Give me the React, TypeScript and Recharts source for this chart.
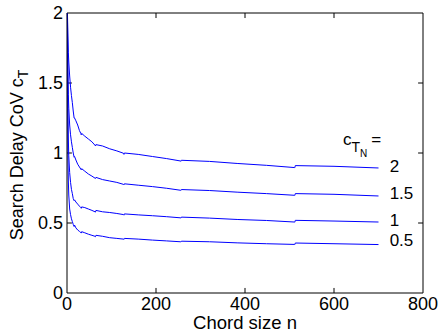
import React from "react";
import { LineChart, Line, XAxis, YAxis, ReferenceDot, ReferenceLine } from "recharts";

// chord sizes n (denser near the start and around the powers of two)
const N = [
  1, 2, 3, 4, 6, 8, 10, 12, 14, 16, 17, 20, 24, 28, 31, 32, 33, 40, 48, 56, 63, 64, 65, 80,
  96, 112, 127, 128, 129, 160, 192, 224, 255, 256, 257, 320, 384, 448, 511, 512, 513, 600, 700,
];

// search delay CoV c_T, one series per c_TN
const CT_2 = [
  2.0, 1.85, 1.72, 1.65, 1.55, 1.47, 1.41, 1.36, 1.3, 1.25, 1.25, 1.23, 1.2, 1.16, 1.14, 1.13,
  1.14, 1.12, 1.1, 1.08, 1.055, 1.05, 1.06, 1.05, 1.03, 1.015, 0.998, 0.99, 1.0, 0.99, 0.975,
  0.96, 0.943, 0.94, 0.948, 0.94, 0.925, 0.912, 0.896, 0.895, 0.91, 0.905, 0.893,
];
const CT_15 = [
  2.0, 1.6, 1.42, 1.32, 1.2, 1.13, 1.08, 1.04, 1.0, 0.97, 0.975, 0.95, 0.92, 0.9, 0.885, 0.88,
  0.888, 0.87, 0.85, 0.835, 0.82, 0.818, 0.826, 0.81, 0.8, 0.79, 0.776, 0.772, 0.78, 0.77, 0.76,
  0.748, 0.734, 0.732, 0.739, 0.732, 0.72, 0.71, 0.698, 0.697, 0.71, 0.705, 0.693,
];
const CT_1 = [
  2.0, 1.3, 1.1, 0.98, 0.86, 0.79, 0.74, 0.71, 0.675, 0.66, 0.665, 0.65, 0.635, 0.62, 0.61,
  0.605, 0.615, 0.61, 0.6, 0.59, 0.58, 0.578, 0.59, 0.58, 0.575, 0.568, 0.56, 0.556, 0.565,
  0.558, 0.552, 0.545, 0.537, 0.535, 0.542, 0.535, 0.525, 0.518, 0.507, 0.506, 0.519, 0.514,
  0.507,
];
const CT_05 = [
  2.0, 1.0, 0.8, 0.7, 0.6, 0.56, 0.53, 0.51, 0.49, 0.475, 0.485, 0.465, 0.45, 0.44, 0.432,
  0.428, 0.438, 0.43, 0.42, 0.412, 0.405, 0.402, 0.412, 0.405, 0.395, 0.39, 0.385, 0.382, 0.39,
  0.385, 0.378, 0.372, 0.366, 0.364, 0.37, 0.366, 0.358, 0.352, 0.347, 0.346, 0.357, 0.352,
  0.346,
];

const X_TICKS = [0, 200, 400, 600, 800];
const Y_TICKS = [0, 0.5, 1, 1.5, 2];
const X_DOMAIN: [number, number] = [0, 800];
const Y_DOMAIN: [number, number] = [0, 2];

// curve labels at the right end, in data coordinates
const CURVE_LABELS = ["2", "1.5", "1", "0.5"];
const CURVE_LABEL_Y = [0.864, 0.671, 0.479, 0.336];
const LABEL_X = 725;
const HEADER_X = 620;
const HEADER_Y = 1.06;

const data = N.map((n, i) => ({
  n,
  c2: CT_2[i],
  c15: CT_15[i],
  c1: CT_1[i],
  c05: CT_05[i],
}));

const FONT = "'Liberation Sans', Arial, Helvetica, sans-serif";
const TICK = { fill: "#000", fontSize: 18, fontFamily: FONT };
const BLUE = "#0000ff";
const LINE = { stroke: "#000" };

// inward tick length, in data units (about 5px)
const TICK_DX = 11;
const TICK_DY = 0.036;

const YTitle = ({ viewBox }: any) => {
  const cx = 23;
  const cy = viewBox.y + viewBox.height / 2 + 2;
  return (
    <text
      x={cx}
      y={cy}
      transform={`rotate(-90, ${cx}, ${cy})`}
      textAnchor="middle"
      fontSize={18}
      fontFamily={FONT}
      fill="#000"
    >
      Search Delay CoV c
      <tspan fontSize={14} dy={5}>
        T
      </tspan>
    </text>
  );
};

const XTitle = ({ viewBox }: any) => (
  <text
    x={viewBox.x + viewBox.width / 2}
    y={viewBox.y + 36}
    textAnchor="middle"
    fontSize={18.5}
    fontFamily={FONT}
    fill="#000"
  >
    Chord size n
  </text>
);

export default function App() {
  const series = [
    { key: "c2", name: "2" },
    { key: "c15", name: "1.5" },
    { key: "c1", name: "1" },
    { key: "c05", name: "0.5" },
  ];
  return (
    <div style={{ position: "absolute", left: 0, top: 0 }}>
      <LineChart
        width={439}
        height={334}
        data={data}
        margin={{ top: 13, right: 16, bottom: 11, left: 0 }}
        style={{ fontFamily: FONT }}
      >
        <XAxis
          dataKey="n"
          type="number"
          domain={X_DOMAIN}
          ticks={X_TICKS}
          height={30}
          tick={TICK}
          tickLine={false}
          tickSize={0}
          tickMargin={4}
          axisLine={LINE}
          label={<XTitle />}
        />
        <YAxis
          type="number"
          domain={Y_DOMAIN}
          ticks={Y_TICKS}
          width={67}
          tick={TICK}
          tickLine={false}
          tickSize={0}
          tickMargin={4}
          axisLine={LINE}
          label={<YTitle />}
        />
        {/* top and right sides of the box */}
        <ReferenceLine y={Y_DOMAIN[1]} stroke="#000" />
        <ReferenceLine x={X_DOMAIN[1]} stroke="#000" />
        {/* inward tick marks on all four sides of the box */}
        {X_TICKS.slice(1, -1).map((t) => (
          <ReferenceLine
            key={`xb${t}`}
            segment={[
              { x: t, y: Y_DOMAIN[0] },
              { x: t, y: Y_DOMAIN[0] + TICK_DY },
            ]}
            stroke="#000"
          />
        ))}
        {X_TICKS.slice(1, -1).map((t) => (
          <ReferenceLine
            key={`xt${t}`}
            segment={[
              { x: t, y: Y_DOMAIN[1] },
              { x: t, y: Y_DOMAIN[1] - TICK_DY },
            ]}
            stroke="#000"
          />
        ))}
        {Y_TICKS.slice(1, -1).map((t) => (
          <ReferenceLine
            key={`yl${t}`}
            segment={[
              { x: X_DOMAIN[0], y: t },
              { x: X_DOMAIN[0] + TICK_DX, y: t },
            ]}
            stroke="#000"
          />
        ))}
        {Y_TICKS.slice(1, -1).map((t) => (
          <ReferenceLine
            key={`yr${t}`}
            segment={[
              { x: X_DOMAIN[1], y: t },
              { x: X_DOMAIN[1] - TICK_DX, y: t },
            ]}
            stroke="#000"
          />
        ))}
        {series.map((s) => (
          <Line
            key={s.key}
            dataKey={s.key}
            name={s.name}
            type="linear"
            stroke={BLUE}
            strokeWidth={1}
            dot={false}
            isAnimationActive={false}
          />
        ))}
        <ReferenceDot
          x={HEADER_X}
          y={HEADER_Y}
          r={0}
          shape={(p: any) => (
            <text x={p.cx} y={p.cy} fontSize={17} fontFamily={FONT} fill="#000">
              c
              <tspan fontSize={14} dy={7}>
                T
              </tspan>
              <tspan fontSize={10} dy={5}>
                N
              </tspan>
              <tspan fontSize={17} dy={-12} dx={4}>
                =
              </tspan>
            </text>
          )}
        />
        {CURVE_LABELS.map((lab, i) => (
          <ReferenceDot
            key={lab}
            x={LABEL_X}
            y={CURVE_LABEL_Y[i]}
            r={0}
            shape={(p: any) => (
              <text x={p.cx} y={p.cy} fontSize={17} fontFamily={FONT} fill="#000">
                {lab}
              </text>
            )}
          />
        ))}
      </LineChart>
    </div>
  );
}
